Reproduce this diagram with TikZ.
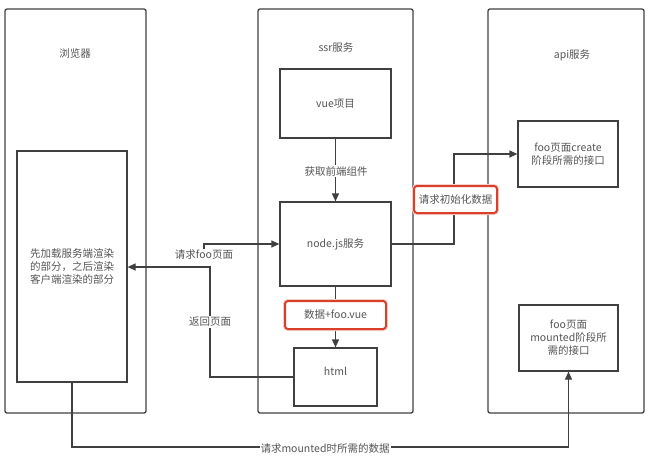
\documentclass[tikz,border=0pt]{standalone}
\usepackage{fontspec}
\setmainfont{Noto Sans CJK SC}
\usetikzlibrary{arrows.meta}
\definecolor{ink}{HTML}{404040}
\definecolor{txt}{HTML}{555555}
\definecolor{hl}{HTML}{D8402A}

\begin{document}
\begin{tikzpicture}[x=1pt,y=-1pt,
  font=\fontsize{10.5}{13}\selectfont, text=txt,
  lane/.style={draw=ink, line width=1.3pt, rounded corners=2pt, inner sep=0pt},
  box/.style={draw=ink, line width=1.2pt, inner sep=0pt, align=center},
  link/.style={draw=ink, line width=1.2pt, -{Triangle[length=8pt,width=7pt]}},
  lbl/.style={fill=white, inner sep=1pt},
  flag/.style={fill=white, inner sep=0pt, rounded corners=3pt,
    preaction={draw=hl!25, line width=4pt},
    draw=hl, line width=2pt}
]
\useasboundingbox (0,0) rectangle (653,455);

% swim lanes
\node[lane, minimum width=141pt, minimum height=404pt] (browser) at (75.5,211) {};
\node[lane, minimum width=155pt, minimum height=404pt] (ssr) at (335.5,211) {};
\node[lane, minimum width=156pt, minimum height=404pt] (api) at (566,211) {};
\node (browserT) at (75,54) {浏览器};
\node (ssrT) at (336,48) {ssr服务};
\node (apiT) at (572,55) {api服务};

% boxes
\node[box, minimum width=110pt, minimum height=231pt] (inner) at (72,266.5)
  {先加载服务端渲染\\的部分，之后渲染\\客户端渲染的部分};
\node[box, minimum width=111pt, minimum height=69pt] (vue) at (335.5,103.5) {vue项目};
\node[box, minimum width=111pt, minimum height=84pt] (nodejs) at (335.5,244) {node.js服务};
\node[box, minimum width=83pt, minimum height=58pt] (html) at (335.5,377) {};
\node (htmlT) at (335.5,371) {html};
\node[box, minimum width=100pt, minimum height=66pt] (create) at (568,154)
  {foo页面create\\阶段所需的接口};
\node[box, minimum width=99pt, minimum height=66pt] (mounted) at (568.5,338)
  {foo页面\\mounted阶段所\\需的接口};

% bend points
\coordinate (retbend) at (210,267);
\coordinate (initbend) at (454,154);
\coordinate (mbend) at (568.5,447);

% the request edge starts from its own label
\node[lbl] (reqL) at (204,255) {请求foo页面};

% connectors
\draw[link] (vue) -- (nodejs);
\draw[link] (reqL.north) |- (nodejs.west);
\draw[link] (html.west) -| (retbend) -- (retbend -| inner.east);
\draw[link] (nodejs.east) -| (initbend) -- (create.west);
\draw[link] (nodejs) -- (html);
\draw[link] (inner.south) |- (mbend) -- (mounted.south);

% labels on top of the connectors
\node[lbl] (fetchL) at (336,171) {获取前端组件};
\node[lbl] (backL) at (210,322) {返回页面};
\node[lbl] (mountL) at (325,448) {请求mounted时所需的数据};
\node[flag, minimum width=83pt, minimum height=27pt] (initL) at (455.5,199.5) {请求初始化数据};
\node[flag, minimum width=101pt, minimum height=28pt] (dataL) at (335.5,315) {数据+foo.vue};
\end{tikzpicture}
\end{document}
